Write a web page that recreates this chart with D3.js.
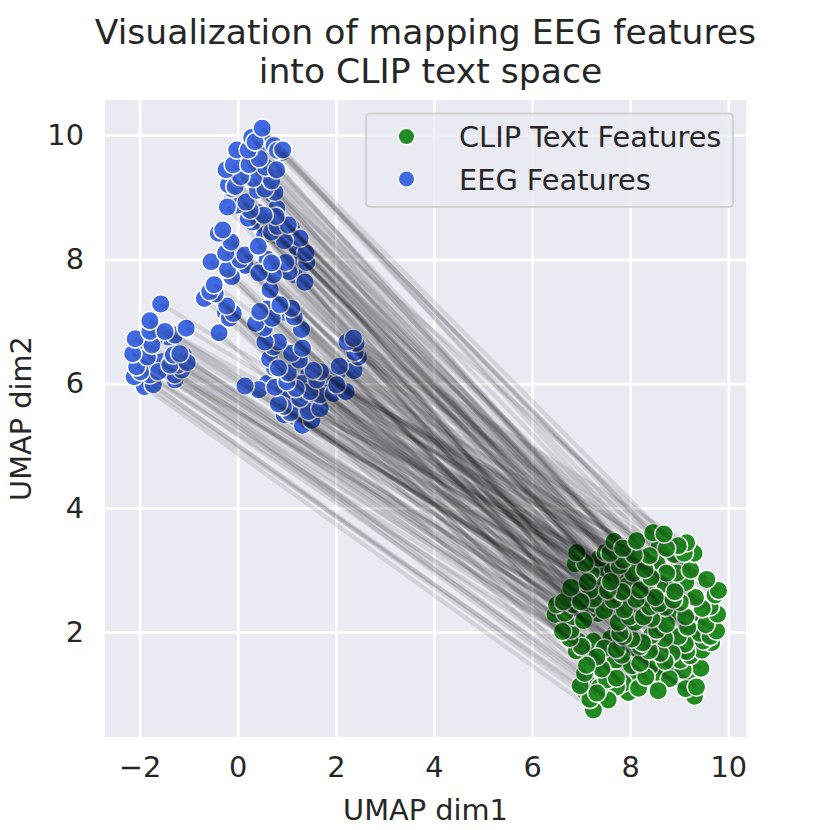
<!DOCTYPE html>
<html>
<head>
<meta charset="utf-8">
<script src="https://cdn.jsdelivr.net/npm/d3@7/dist/d3.min.js"></script>
<style>
  html, body { margin: 0; padding: 0; background: #fff; }
  text { font-family: "DejaVu Sans", sans-serif; fill: #262626; }
</style>
</head>
<body>
<div id="chart"></div>
<script>
// points are index paired: eeg[i] is joined to clip[i] by a line
const eegX = [
  -1.57,-1.79,-1.05,-1.48,-1.79,-1.28,-2.09,-1.75,-2.14,-1.18,-1.31,-1.84,-1.03,-1.38,-1.21,-2.06,-1.14,-1.98,-1.62,-1.79,-1.28,-2.11,-1.28,-1.72,-1.90,
  0.917,0.808,0.74,0.50,0.353,0.285,0.217,-0.02,0.44,0.795,0.57,0.23,-0.09,-0.238,0.06,0.32,0.69,0.557,0.76,0.40,-0.055,-0.19,-0.12,0.17,-0.21,-0.02,0.25,0.536,0.78,0.795,1.03,0.217,0.81,0.69,-0.306,-0.395,-0.136,0.95,1.27,-0.245,0.42,0.149,1.39,0.047,-0.544,0.69,0.978,1.406,-0.204,0.434,-0.123,0.726,1.046,1.37,
  -0.48,-0.57,-0.46,-0.68,-0.225,-0.09,-0.17,-0.38,0.66,0.86,1.10,1.15,0.45,0.705,0.366,0.54,1.30,
  2.36,2.23,2.41,2.39,2.46,2.07,2.37,0.556,0.83,0.73,1.32,1.10,1.255,0.83,1.54,1.69,1.03,1.61,1.00,2.02,0.15,0.76,1.19,0.43,1.47,2.21,1.95,1.68,1.27,0.83,0.93,1.68,1.44,1.07,1.51,1.32,
  -1.78,-1.70,-1.95,-1.85,-1.33,-1.25,-1.10,-1.55,-1.42,-1.90,
  1.60,1.75,2.30,2.40,1.30,1.05,0.90,1.15,0.65,0.75,1.40,1.55,1.85,2.05,1.20,0.95,0.60,1.70,0.70,1.45,
  0.60,0.35,-0.10,0.10,0.45,0.30,0.85,1.20,1.30,1.10,0.55,0.60,0.15,0.50,-0.15,0.85,1.15,-0.20,0.45,0.90,0.65,0.25,-0.15,0.70,0.65,
  0.60,-0.25,0.95,0.50,-0.55
];
const eegY = [
  7.28,7.01,6.89,6.84,6.84,6.78,6.72,6.62,6.48,6.48,6.46,6.43,6.34,6.30,6.30,6.27,6.22,6.19,6.19,6.14,6.14,6.11,6.06,5.98,5.95,
  9.76,9.75,9.83,10.11,9.89,9.96,9.76,9.76,9.62,9.44,9.48,9.52,9.52,9.44,9.33,9.30,9.26,9.13,9.08,9.11,9.17,9.20,9.13,8.92,8.84,8.87,8.79,8.71,8.69,8.82,8.55,8.66,8.53,8.44,8.47,8.42,8.28,8.30,8.34,8.10,8.21,8.07,8.10,7.99,7.96,7.94,7.95,7.95,7.84,7.78,7.72,7.75,7.80,7.63,
  7.59,7.48,7.44,7.37,7.25,7.13,7.05,6.82,7.51,7.27,7.21,7.07,7.16,7.05,6.97,6.90,6.87,
  6.73,6.67,6.65,6.50,6.43,6.28,6.21,6.67,6.67,6.59,6.57,6.49,6.38,6.25,6.21,6.19,6.17,6.06,6.03,5.98,5.96,5.94,5.92,5.90,5.87,5.87,5.84,5.82,5.76,5.67,5.63,5.60,5.55,5.53,5.41,5.33,
  6.93,6.70,6.35,6.05,6.40,6.10,6.45,6.35,6.75,6.50,
  6.15,5.85,6.60,6.35,6.00,5.85,5.75,5.70,6.40,6.25,5.65,5.50,6.00,6.20,5.45,5.50,6.00,6.00,6.55,6.15,
  9.30,9.25,9.00,8.90,8.75,8.60,8.35,8.20,8.00,8.50,8.40,8.00,7.90,7.85,8.15,7.85,7.75,7.80,9.70,9.72,9.85,9.60,9.35,9.05,8.75,
  7.20,7.15,7.15,7.00,7.42
];
const clipX = [
  6.91,7.08,6.88,7.13,6.79,6.99,6.64,6.50,6.84,6.67,6.47,7.05,6.84,6.62,6.79,6.77,7.01,6.90,7.11,7.07,7.32,6.98,7.32,7.18,7.25,
  8.69,8.46,8.74,8.13,7.85,7.67,7.59,7.49,8.08,8.39,8.30,7.86,7.37,7.20,7.78,8.06,8.42,8.74,8.98,7.60,7.54,7.18,7.25,7.83,6.94,7.66,8.20,8.91,8.88,9.02,8.51,8.12,8.59,8.71,7.47,7.88,8.40,8.27,8.44,7.99,8.10,7.76,8.74,7.79,7.86,8.03,8.25,8.54,8.20,8.44,7.72,8.70,8.39,8.61,
  7.95,7.47,7.83,7.42,7.72,7.52,7.38,7.55,8.71,8.20,8.57,8.32,8.03,8.17,7.72,7.86,7.96,
  9.15,9.10,9.30,9.23,9.56,8.95,9.80,9.13,9.33,9.13,9.73,9.47,9.63,9.17,9.78,9.54,9.29,9.76,8.98,9.63,8.85,9.12,9.42,9.15,9.49,9.66,9.46,9.22,9.02,8.80,9.08,9.44,9.35,9.13,9.25,9.31,
  7.30,7.15,6.72,7.08,7.25,7.45,6.95,7.10,6.85,6.72,
  8.05,8.20,8.90,9.00,7.65,7.90,7.40,8.10,7.45,7.70,8.35,8.60,8.55,8.80,7.90,7.55,7.35,8.30,7.15,7.60,
  8.50,8.10,7.70,7.95,8.40,8.00,8.90,9.10,9.30,9.00,8.65,8.55,8.20,8.10,7.60,8.80,9.20,7.60,8.20,8.60,8.60,7.95,7.50,8.35,8.30,
  8.15,7.50,8.45,7.90,7.65
];
const clipY = [
  3.28,3.11,3.10,2.81,2.72,2.49,2.49,2.44,2.44,2.31,2.29,2.19,2.25,2.01,2.03,1.90,1.77,1.70,1.47,1.34,1.60,1.14,1.02,0.92,0.75,
  3.58,3.60,3.35,3.47,3.35,3.46,3.27,3.28,3.24,3.23,3.01,3.16,3.19,2.96,3.07,2.95,2.88,2.95,3.39,2.81,2.67,2.68,2.54,2.65,2.60,2.52,2.68,2.65,2.52,2.48,2.56,2.53,2.46,2.40,2.35,2.36,2.41,2.25,2.22,2.25,2.16,2.16,2.13,1.98,1.93,1.89,1.83,2.03,1.77,1.95,1.72,1.90,1.70,1.66,
  2.75,1.74,1.63,1.41,1.26,1.23,1.12,0.91,1.53,1.50,1.06,1.28,1.46,1.10,1.12,1.18,1.03,
  3.44,3.27,3.27,3.00,2.85,2.95,2.67,2.80,2.56,2.25,2.60,2.38,2.41,2.08,2.29,2.12,2.20,2.02,1.93,1.93,1.66,1.81,1.98,1.69,1.86,1.83,1.71,1.62,1.55,1.25,1.39,1.42,1.12,1.09,1.20,0.97,
  2.45,2.35,2.00,1.05,1.85,1.00,1.85,1.25,2.65,2.15,
  3.42,3.15,3.25,3.10,3.00,2.95,2.75,2.75,2.90,2.45,2.70,2.75,3.10,2.80,2.55,2.50,2.30,2.90,2.50,2.85,
  1.90,1.35,1.55,1.30,1.45,1.70,1.85,2.00,1.90,2.30,2.20,1.35,1.25,1.60,1.90,1.45,1.50,1.45,3.00,3.40,3.25,3.00,2.95,2.60,2.35,
  1.25,1.50,1.35,1.40,1.95
];
const xTicks = [-2, 0, 2, 4, 6, 8, 10];
const yTicks = [2, 4, 6, 8, 10];
const xDomain = [-2.705, 10.36];
const yDomain = [0.314, 10.563];
const titleLines = ["Visualization of mapping EEG features", "into CLIP text space"];
const legendLabels = ["CLIP Text Features", "EEG Features"];
const clipColor = "#228B22";
const eegColor = "#4169E1";

const width = 830, height = 830;
const margin = {top: 100, right: 84, bottom: 93, left: 105};
const innerW = width - margin.left - margin.right;
const innerH = height - margin.top - margin.bottom;

const svg = d3.select("#chart").append("svg")
    .attr("width", width)
    .attr("height", height)
    .style("display", "block");

const x = d3.scaleLinear().domain(xDomain).range([margin.left, margin.left + innerW]);
const y = d3.scaleLinear().domain(yDomain).range([margin.top + innerH, margin.top]);
const fmt = d => String(d).replace("-", "\u2212");

// background
svg.append("rect")
    .attr("x", margin.left).attr("y", margin.top)
    .attr("width", innerW).attr("height", innerH)
    .attr("fill", "#EAEAF2");

// axes, the tick lines are the white grid
const xAxis = svg.append("g")
    .attr("transform", `translate(0, ${margin.top})`)
    .call(d3.axisBottom(x).tickValues(xTicks).tickFormat(fmt).tickSize(innerH).tickPadding(0));
xAxis.selectAll("text").attr("y", innerH + 20).attr("dy", "0.71em").attr("font-size", 28.8);

const yAxis = svg.append("g")
    .attr("transform", `translate(${margin.left}, 0)`)
    .call(d3.axisLeft(y).tickValues(yTicks).tickFormat(fmt).tickSize(-innerW).tickPadding(21));
yAxis.selectAll("text").attr("font-size", 28.8);

svg.selectAll(".domain").remove();
svg.selectAll(".tick line").attr("stroke", "#fff").attr("stroke-width", 2.7);
svg.selectAll(".tick text").style("fill", "#262626").attr("font-family", "DejaVu Sans");

// scatter points, drawn last index first so the partly hidden ones stay behind
const drawPoints = (xs, ys, color) => {
    svg.append("g").selectAll("circle")
        .data(xs.map((d, i) => [d, ys[i]]).reverse())
        .enter()
        .append("circle")
        .attr("cx", d => x(d[0]))
        .attr("cy", d => y(d[1]))
        .attr("r", 9.3)
        .attr("fill", color)
        .attr("stroke", "#fff")
        .attr("stroke-width", 1.6);
};
drawPoints(clipX, clipY, clipColor);
drawPoints(eegX, eegY, eegColor);

// connecting lines go over the points
svg.append("g").selectAll("line")
    .data(eegX.map((d, i) => i))
    .enter()
    .append("line")
    .attr("x1", i => x(eegX[i]))
    .attr("y1", i => y(eegY[i]))
    .attr("x2", i => x(clipX[i]))
    .attr("y2", i => y(clipY[i]))
    .attr("stroke", "#000")
    .attr("stroke-opacity", 0.1)
    .attr("stroke-width", 4.2);

// legend
const legend = svg.append("g");
legend.append("rect")
    .attr("x", 366).attr("y", 113.5)
    .attr("width", 367).attr("height", 93.5)
    .attr("rx", 4)
    .attr("fill", "#EAEAF2").attr("fill-opacity", 0.8)
    .attr("stroke", "#CCCCCC").attr("stroke-opacity", 0.8).attr("stroke-width", 2.2);
[clipColor, eegColor].forEach((c, i) => {
    legend.append("circle")
        .attr("cx", 406.5).attr("cy", 136.5 + i * 42.5)
        .attr("r", 8.3)
        .attr("fill", c)
        .attr("stroke", "#fff").attr("stroke-width", 1.5);
    legend.append("text")
        .attr("x", 459).attr("y", 147 + i * 42.5)
        .attr("font-size", 28.8)
        .text(legendLabels[i]);
});

// titles
titleLines.forEach((t, i) => {
    svg.append("text")
        .attr("x", margin.left + innerW / 2 + i * 5)
        .attr("y", 44 + i * 38.5)
        .attr("text-anchor", "middle")
        .attr("font-size", 34.6)
        .text(t);
});
svg.append("text")
    .attr("x", margin.left + innerW / 2)
    .attr("y", 820)
    .attr("text-anchor", "middle")
    .attr("font-size", 28.8)
    .text("UMAP dim1");
svg.append("text")
    .attr("transform", `translate(31, ${margin.top + innerH / 2}) rotate(-90)`)
    .attr("text-anchor", "middle")
    .attr("font-size", 28.8)
    .text("UMAP dim2");
</script>
</body>
</html>
